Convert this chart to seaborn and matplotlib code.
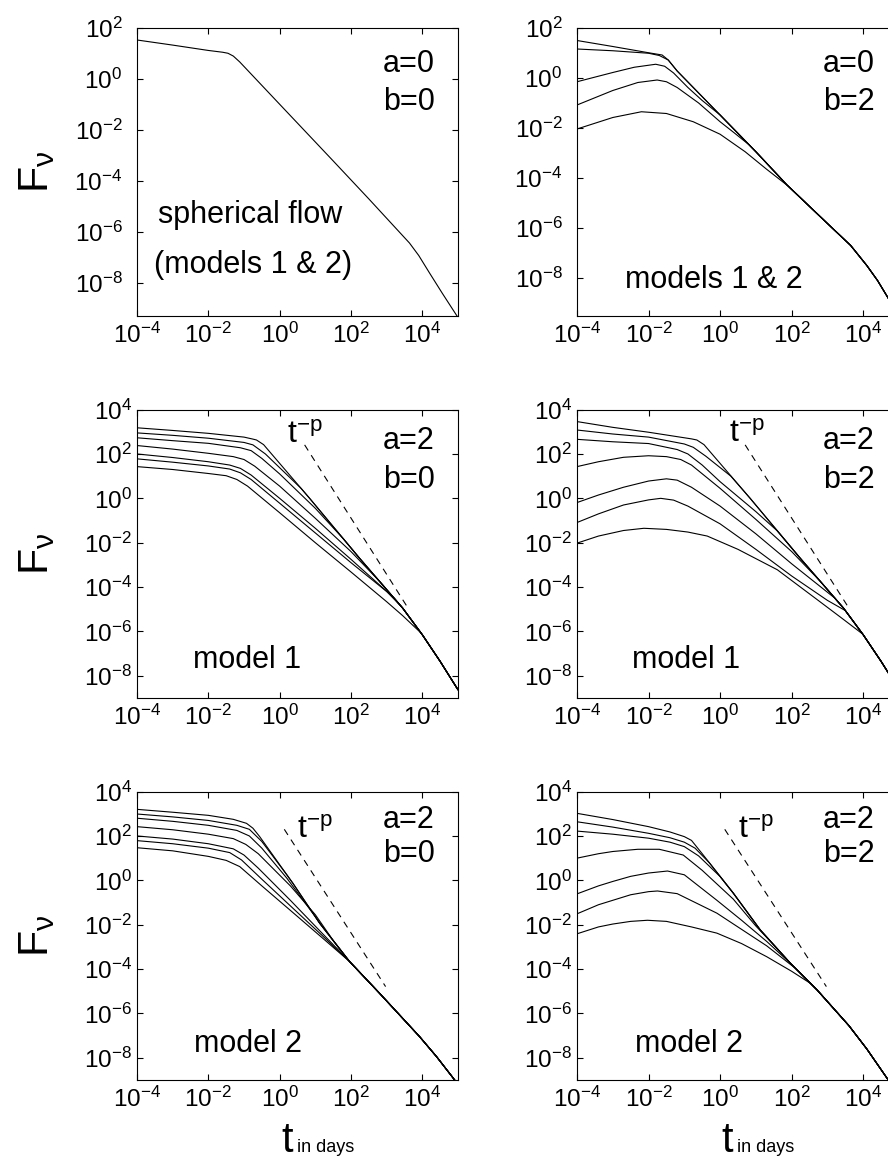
import numpy as np
import pandas as pd
import seaborn as sns
import matplotlib.pyplot as plt
from matplotlib.ticker import NullLocator

# --- Data: (log10 t [days], log10 F_nu) knots ---

# top-left: spherical flow, a=0 b=0
sph = [(-4, 1.53), (-3, 1.33), (-2, 1.12), (-1.6, 1.05), (-1.45, 1.01), (-1.3, 0.9),
       (-1.12, 0.67), (0, -0.99), (1.48, -3.18), (2.5, -4.7), (3.64, -6.43),
       (3.9, -6.92), (4.2, -7.6), (4.56, -8.4), (5.0, -9.35)]

# top-right: a=0 b=2, common envelope + curves up to the point where they join it
env_a0b2 = [(-1.62, 0.92), (-1.45, 0.72), (-1.2, 0.28), (0, -1.48), (1, -2.95),
            (1.87, -4.28), (3, -5.82), (3.65, -6.7), (4.1, -7.5), (4.4, -8.1),
            (4.7, -8.81), (5.0, -9.55)]
a0b2_c1 = [(-4, 1.5), (-3, 1.26), (-2, 1.01), (-1.62, 0.92)]
a0b2_c2 = [(-4, 1.16), (-3, 1.09), (-2, 0.99), (-1.7, 0.9), (-1.45, 0.72)]
a0b2_c3 = [(-4, -0.15), (-3, 0.22), (-2.4, 0.43), (-1.8, 0.55), (-1.55, 0.47), (-1.3, 0.2),
           (-0.9, -0.38), (-0.5, -0.9), (0, -1.48)]
a0b2_c4 = [(-4, -1.08), (-3, -0.5), (-2.3, -0.18), (-1.76, -0.08), (-1.5, -0.15), (-1.2, -0.38),
           (-0.6, -1.0), (0, -1.75), (0.4, -2.2), (0.8, -2.66)]
a0b2_c5 = [(-4, -2.04), (-3, -1.58), (-2.2, -1.35), (-1.5, -1.42), (-0.75, -1.75), (0, -2.25),
           (0.7, -2.95), (1.3, -3.65), (1.9, -4.32)]

# model 1 envelope (middle row)
env_m1 = [(-0.65, 2.63), (-0.45, 2.42), (-0.28, 2.1), (0.84, 0.0), (2.24, -2.7),
          (3.45, -4.95), (4.0, -6.15), (4.5, -7.35), (5.0, -8.63)]
m1b0_c1 = [(-4, 3.18), (-3, 3.06), (-2, 2.93), (-1, 2.76), (-0.75, 2.67)]
m1b0_c2 = [(-4, 2.95), (-3, 2.84), (-2, 2.71), (-1, 2.52), (-0.75, 2.41), (-0.4, 2.0),
           (0, 1.38), (0.6, 0.45)]
m1b0_c3 = [(-4, 2.73), (-3, 2.6), (-2, 2.48), (-1.1, 2.28), (-0.8, 2.15), (-0.5, 1.8),
           (0, 1.1), (1, -0.45), (1.8, -1.85)]
m1b0_c4 = [(-4, 2.38), (-3, 2.22), (-2, 2.03), (-1.3, 1.88), (-1.0, 1.75), (-0.7, 1.45),
           (0, 0.55), (1, -0.9), (2, -2.4), (2.8, -3.74)]
m1b0_c5 = [(-4, 2.0), (-3, 1.84), (-2, 1.65), (-1.4, 1.5), (-1.1, 1.35), (-0.8, 1.05),
           (0, 0.0), (1, -1.35), (2, -2.75), (3.2, -4.48)]
m1b0_c6 = [(-4, 1.78), (-3, 1.63), (-2, 1.46), (-1.4, 1.32), (-1.1, 1.15), (-0.8, 0.85),
           (0, -0.22), (1, -1.56), (2, -2.9), (3.0, -4.2), (3.4, -4.86)]
m1b0_c7 = [(-4, 1.43), (-3, 1.3), (-2, 1.12), (-1.5, 1.02), (-1.2, 0.85), (-0.9, 0.55),
           (0, -0.65), (1, -2.0), (2, -3.32), (3, -4.66), (3.45, -5.29), (3.95, -6.05)]

m1b2_c1 = [(-4, 3.46), (-3, 3.2), (-2, 2.98), (-1.2, 2.78), (-0.8, 2.68)]
m1b2_c2 = [(-4, 3.08), (-3, 2.9), (-2, 2.76), (-1.0, 2.45), (-0.75, 2.3), (-0.4, 1.9), (0.3, 1.0)]
m1b2_c3 = [(-4, 2.66), (-3, 2.55), (-2, 2.47), (-1.2, 2.2), (-0.9, 2.0), (-0.5, 1.5),
           (0, 0.75), (1, -0.6), (1.6, -1.47)]
m1b2_c4 = [(-4, 1.43), (-3.4, 1.65), (-2.7, 1.85), (-2.0, 1.92), (-1.5, 1.88), (-1.1, 1.75),
           (-0.8, 1.5), (0, 0.45), (1, -0.95), (2, -2.4), (2.8, -3.74)]
m1b2_c5 = [(-4, -0.19), (-3.4, 0.15), (-2.7, 0.5), (-2, 0.78), (-1.5, 0.88), (-1.2, 0.82),
           (-0.8, 0.5), (0, -0.35), (1, -1.6), (2, -2.95), (3.2, -4.49)]
m1b2_c6 = [(-4, -1.09), (-3.4, -0.7), (-2.7, -0.3), (-2, -0.07), (-1.66, 0.0), (-1.3, -0.08),
           (-0.9, -0.35), (0, -1.15), (1, -2.3), (2, -3.5), (3, -4.6), (3.5, -5.06)]
m1b2_c7 = [(-4, -2.02), (-3.4, -1.7), (-2.7, -1.45), (-2.13, -1.35), (-1.5, -1.4), (-0.9, -1.52),
           (-0.36, -1.7), (0.5, -2.3), (1.6, -3.22), (2.7, -4.55), (3.4, -5.4), (3.97, -6.1)]

# model 2 (bottom row)
env_m2b0 = [(-0.93, 2.57), (-0.75, 2.35), (-0.56, 1.97), (0.37, -0.13), (1.12, -1.93),
            (1.96, -3.66), (2.8, -5.09), (3.92, -7.04), (4.4, -7.95), (4.83, -8.84), (5.0, -9.2)]
m2b0_c1 = [(-4, 3.2), (-3, 3.07), (-2, 2.93), (-1.3, 2.75), (-0.93, 2.57)]
m2b0_c2 = [(-4, 2.99), (-3, 2.86), (-2, 2.7), (-1.2, 2.48), (-0.85, 2.3), (-0.5, 1.75), (0.2, 0.25)]
m2b0_c3 = [(-4, 2.8), (-3, 2.66), (-2, 2.48), (-1.2, 2.25), (-0.85, 2.0), (-0.5, 1.45),
           (0.2, 0.1), (1.0, -1.64)]
m2b0_c4 = [(-4, 2.42), (-3, 2.28), (-2, 2.08), (-1.3, 1.88), (-0.95, 1.62), (-0.6, 1.2),
           (0.3, -0.25), (1.0, -1.55), (1.5, -2.71)]
m2b0_c5 = [(-4, 2.0), (-3, 1.86), (-2, 1.65), (-1.3, 1.42), (-1.0, 1.14), (-0.6, 0.55),
           (0.3, -0.9), (1.2, -2.4), (1.96, -3.66)]
m2b0_c6 = [(-4, 1.79), (-3, 1.65), (-2, 1.45), (-1.4, 1.25), (-1.07, 0.92), (-0.5, 0.05),
           (0.5, -1.45), (1.2, -2.5), (1.96, -3.66)]
m2b0_c7 = [(-4, 1.47), (-3, 1.33), (-2, 1.08), (-1.5, 0.9), (-1.12, 0.62), (-0.5, -0.25),
           (0.5, -1.63), (1.2, -2.6), (1.96, -3.66)]

env_m2b2 = [(-0.8, 1.8), (-0.5, 1.2), (0.37, -0.58), (1.12, -2.23), (1.96, -3.73),
            (2.71, -4.94), (3.6, -6.55), (4.1, -7.6), (4.7, -9.0), (5.0, -9.7)]
m2b2_c1 = [(-4, 3.02), (-3, 2.74), (-2, 2.42), (-1.4, 2.18), (-1.0, 1.97), (-0.8, 1.8)]
m2b2_c2 = [(-4, 2.64), (-3, 2.4), (-2, 2.12), (-1.4, 1.92), (-1.0, 1.72), (-0.7, 1.45), (-0.3, 0.79)]
m2b2_c3 = [(-4, 2.22), (-3, 2.08), (-2, 1.9), (-1.4, 1.72), (-1.0, 1.52), (-0.6, 1.1), (0, 0.17)]
m2b2_c4 = [(-4, 1.0), (-3.4, 1.2), (-3, 1.3), (-2.3, 1.4), (-1.7, 1.4), (-1.03, 1.14),
           (-0.5, 0.45), (0.37, -0.85), (1.0, -2.06), (1.59, -3.07)]
m2b2_c5 = [(-4, -0.61), (-3.4, -0.25), (-3, -0.05), (-2.5, 0.18), (-2, 0.33), (-1.47, 0.42),
           (-1.0, 0.25), (-0.09, -0.9), (0.6, -1.8), (1.3, -2.75), (1.96, -3.73)]
m2b2_c6 = [(-4, -1.51), (-3.4, -1.1), (-3, -0.9), (-2.5, -0.65), (-2, -0.51), (-1.75, -0.48),
           (-1.2, -0.6), (-0.09, -1.48), (1.3, -2.95), (2.1, -3.96)]
m2b2_c7 = [(-4, -2.41), (-3.4, -2.1), (-3, -1.97), (-2.5, -1.85), (-2.03, -1.8), (-1.5, -1.85),
           (-0.8, -2.1), (-0.09, -2.38), (0.6, -2.85), (1.3, -3.44), (2.0, -4.1), (2.52, -4.64)]

# t^-p guide lines
dash_m1 = [(0.70, 2.41), (3.60, -4.95)]
dash_m2 = [(0.13, 2.3), (2.97, -4.79)]

xtick_vals = [1e-4, 1e-2, 1e0, 1e2, 1e4]
xtick_text = [r'$10^{-4}$', r'$10^{-2}$', r'$10^{0}$', r'$10^{2}$', r'$10^{4}$']
ytick_top = [1e2, 1e0, 1e-2, 1e-4, 1e-6, 1e-8]
ytick_top_text = [r'$10^{2}$', r'$10^{0}$', r'$10^{-2}$', r'$10^{-4}$', r'$10^{-6}$', r'$10^{-8}$']
ytick_low = [1e4, 1e2, 1e0, 1e-2, 1e-4, 1e-6, 1e-8]
ytick_low_text = [r'$10^{4}$'] + ytick_top_text

# --- Style ---
sns.set_style("ticks", {"axes.edgecolor": "black", "text.color": "black",
                        "xtick.color": "black", "ytick.color": "black",
                        "xtick.direction": "in", "ytick.direction": "in"})
plt.rcParams['font.family'] = ['Liberation Sans', 'DejaVu Sans']
plt.rcParams['mathtext.fontset'] = 'custom'
plt.rcParams['mathtext.rm'] = 'Liberation Sans'
plt.rcParams['mathtext.it'] = 'Liberation Sans:italic'
plt.rcParams['mathtext.bf'] = 'Liberation Sans:bold'

W, H = 888, 1159
TXT = 22  # in-panel annotation size


def frac(x, y):
    return x / W, 1 - y / H


def box(left, top, right, bottom):
    return [left / W, 1 - bottom / H, (right - left) / W, (bottom - top) / H]


def curve_frame(own, env, name):
    pts = list(own)
    if env is not None:
        pts += [p for p in env if p[0] > own[-1][0]]
    df = pd.DataFrame(pts, columns=['logt', 'logF'])
    df['t'] = 10.0 ** df['logt']
    df['F'] = 10.0 ** df['logF']
    df['curve'] = name
    return df


rows = [(28, 316), (409.6, 698), (791.6, 1080)]
cols = [(137, 458), (577, 899)]

panels = [
    dict(r=0, c=0, curves=[sph], env=None, ylim=(10 ** -9.29, 1e2), dash=None,
         ab=('a=0', 'b=0'), note=[('spherical flow', 250, 222.7), ('(models 1 & 2)', 253, 273.3)]),
    dict(r=0, c=1, curves=[a0b2_c1, a0b2_c2, a0b2_c3, a0b2_c4, a0b2_c5], env=env_a0b2,
         ylim=(10 ** -9.52, 1e2), dash=None,
         ab=('a=0', 'b=2'), note=[('models 1 & 2', 714, 288.3)]),
    dict(r=1, c=0, curves=[m1b0_c1, m1b0_c2, m1b0_c3, m1b0_c4, m1b0_c5, m1b0_c6, m1b0_c7],
         env=env_m1, ylim=(1e-9, 1e4), dash=dash_m1,
         ab=('a=2', 'b=0'), note=[('model 1', 247.5, 668.3)]),
    dict(r=1, c=1, curves=[m1b2_c1, m1b2_c2, m1b2_c3, m1b2_c4, m1b2_c5, m1b2_c6, m1b2_c7],
         env=env_m1, ylim=(1e-9, 1e4), dash=dash_m1,
         ab=('a=2', 'b=2'), note=[('model 1', 686, 668.3)]),
    dict(r=2, c=0, curves=[m2b0_c1, m2b0_c2, m2b0_c3, m2b0_c4, m2b0_c5, m2b0_c6, m2b0_c7],
         env=env_m2b0, ylim=(1e-9, 1e4), dash=dash_m2,
         ab=('a=2', 'b=0'), note=[('model 2', 248, 1051.7)]),
    dict(r=2, c=1, curves=[m2b2_c1, m2b2_c2, m2b2_c3, m2b2_c4, m2b2_c5, m2b2_c6, m2b2_c7],
         env=env_m2b2, ylim=(1e-9, 1e4), dash=dash_m2,
         ab=('a=2', 'b=2'), note=[('model 2', 689, 1051.7)]),
]

# label positions per row: (a baseline, b baseline)
ab_y = [(72, 110), (449, 488.3), (828.3, 862)]
ab_x = [409, 849]
tp_pos = {(1, 0): (287, 443.3), (1, 1): (729, 441.7), (2, 0): (297, 838.3), (2, 1): (738, 838.3)}

fig = plt.figure(figsize=(W / 100, H / 100), dpi=100)

for p in panels:
    r, c = p['r'], p['c']
    top, bottom = rows[r]
    left, right = cols[c]
    ax = fig.add_axes(box(left, top, right, bottom))
    df = pd.concat([curve_frame(cv, p['env'], f'c{i}') for i, cv in enumerate(p['curves'])])
    sns.lineplot(data=df, x='t', y='F', units='curve', estimator=None, sort=False,
                 color='black', linewidth=0.8, ax=ax, legend=False)
    if p['dash'] is not None:
        dd = curve_frame(p['dash'], None, 'dash')
        sns.lineplot(data=dd, x='t', y='F', estimator=None, sort=False, color='black',
                     linewidth=0.8, linestyle=(0, (6, 5)), ax=ax, legend=False)
    ax.set_xscale('log')
    ax.set_yscale('log')
    ax.set_xlim(1e-4, 1e5)
    ax.set_ylim(*p['ylim'])
    ax.set_xticks(xtick_vals, labels=xtick_text)
    if r == 0:
        ax.set_yticks(ytick_top, labels=ytick_top_text)
    else:
        ax.set_yticks(ytick_low, labels=ytick_low_text)
    ax.xaxis.set_minor_locator(NullLocator())
    ax.yaxis.set_minor_locator(NullLocator())
    ax.tick_params(which='both', direction='in', top=True, right=True,
                   length=4, width=0.8, labelsize=17.5)
    ax.tick_params(axis='x', pad=5)
    ax.tick_params(axis='y', pad=10.5 if r == 0 else 3.5)
    ax.set_xlabel('')
    ax.set_ylabel('')
    for s in ax.spines.values():
        s.set_linewidth(0.8)

    ya, yb = ab_y[r]
    fig.text(*frac(ab_x[c], ya), p['ab'][0], ha='center', va='baseline', fontsize=TXT)
    fig.text(*frac(ab_x[c], yb), p['ab'][1], ha='center', va='baseline', fontsize=TXT)
    for txt, x, y in p['note']:
        fig.text(*frac(x, y), txt, ha='center', va='baseline', fontsize=TXT)
    if (r, c) in tp_pos:
        fig.text(*frac(*tp_pos[(r, c)]), r'$\mathrm{t}^{-\mathrm{p}}$', ha='left',
                 va='baseline', fontsize=23)

    if c == 0:
        fig.text(*frac(37, (top + bottom) / 2), r'$\mathrm{F}_{\mathrm{\nu}}$',
                 rotation=90, ha='center', va='center', fontsize=31)
    if r == 2:
        fig.text(*frac(left + 144, 1152), 't', ha='left', va='baseline', fontsize=30)
        fig.text(*frac(left + 160, 1152), 'in days', ha='left', va='baseline', fontsize=13)

fig.savefig('out.png', dpi=100)
